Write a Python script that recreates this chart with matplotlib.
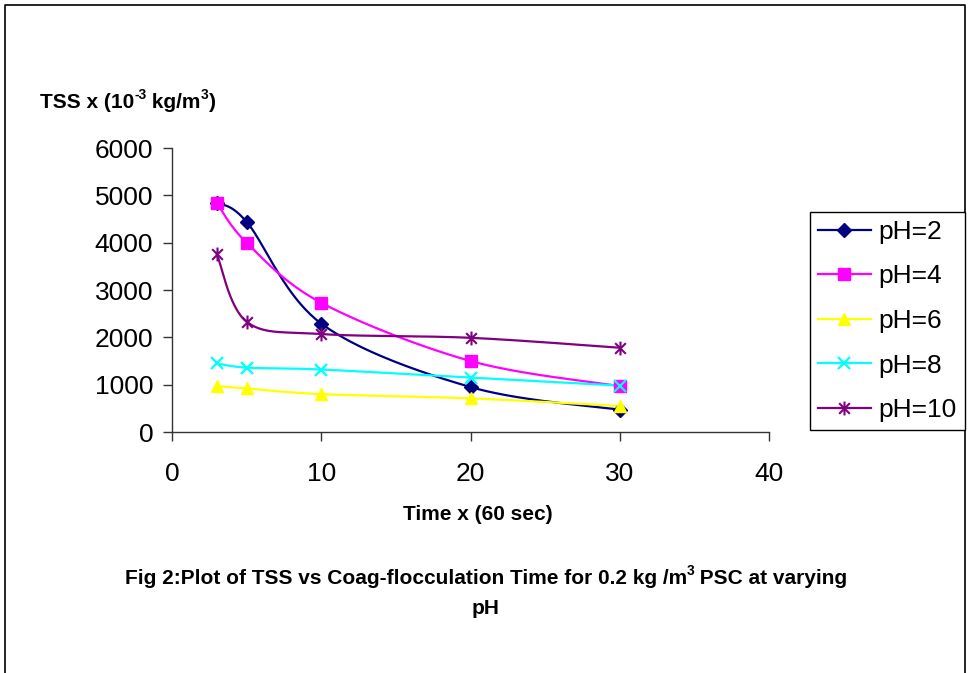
import numpy as np
import matplotlib
matplotlib.use("Agg")
import matplotlib.pyplot as plt
from matplotlib.path import Path
from matplotlib.lines import Line2D

plt.rcParams["font.family"] = ["Liberation Sans", "DejaVu Sans"]
plt.rcParams["axes.unicode_minus"] = False

# ── data ──
time_min = [3, 5, 10, 20, 30]
tss_ph2 = [4840, 4440, 2290, 950, 470]
tss_ph4 = [4840, 4000, 2730, 1500, 970]
tss_ph6 = [970, 920, 800, 710, 550]
tss_ph8 = [1450, 1360, 1320, 1150, 980]
tss_ph10 = [3760, 2330, 2070, 1990, 1780]
series_labels = ["pH=2", "pH=4", "pH=6", "pH=8", "pH=10"]
x_ticks = [0, 10, 20, 30, 40]
y_ticks = [0, 1000, 2000, 3000, 4000, 5000, 6000]

# Excel style asterisk marker (X plus vertical bar)
star = Path([(-1, -1), (1, 1), (-1, 1), (1, -1), (0, -1.3), (0, 1.3)],
            [Path.MOVETO, Path.LINETO, Path.MOVETO, Path.LINETO, Path.MOVETO, Path.LINETO])

styles = [
    dict(color="#000080", marker="D", ms=7, mfc="#000080", mec="#000080"),
    dict(color="#FF00FF", marker="s", ms=8, mfc="#FF00FF", mec="#FF00FF"),
    dict(color="#FFFF00", marker="^", ms=9, mfc="#FFFF00", mec="#FFFF00"),
    dict(color="#00FFFF", marker="x", ms=9, mew=1.6, mfc="none", mec="#00FFFF"),
    dict(color="#800080", marker=star, ms=10, mew=1.5, mfc="none", mec="#800080"),
]


def smooth(x, y, n=40):
    # Catmull-Rom like bezier, the way Excel smooths lines
    p = np.column_stack([x, y]).astype(float)
    p = np.vstack([p[0], p, p[-1]])
    out = []
    t = np.linspace(0, 1, n)[:, None]
    for i in range(1, len(p) - 2):
        p0, p1, p2, p3 = p[i - 1], p[i], p[i + 1], p[i + 2]
        c1 = p1 + (p2 - p0) / 6
        c2 = p2 - (p3 - p1) / 6
        seg = ((1 - t) ** 3) * p1 + 3 * ((1 - t) ** 2) * t * c1 + 3 * (1 - t) * t ** 2 * c2 + t ** 3 * p2
        out.append(seg if i == 1 else seg[1:])
    out = np.vstack(out)
    return out[:, 0], out[:, 1]


W, H = 969, 673
fig = plt.figure(figsize=(9.69, 6.73), dpi=100)
renderer = fig.canvas.get_renderer()


def rich_text(x_px, y_px, chunks, size=15, ha="left"):
    # chunks: list of (text, is_superscript); y_px is the baseline from the top
    arts = []
    x = 0.0
    for txt, sup in chunks:
        fs = size * 0.66 if sup else size
        dy = size * 0.45 if sup else 0
        t = fig.text(0, 0, txt, fontsize=fs, fontweight="bold", va="baseline", ha="left")
        arts.append((t, x, dy))
        x += t.get_window_extent(renderer).width
    x0 = x_px - (x / 2 if ha == "center" else 0)
    for t, off, dy in arts:
        t.set_position(((x0 + off) / W, 1 - y_px / H + dy * 100 / 72 / H))


ax = fig.add_axes([172 / W, 1 - 432 / H, (769 - 172) / W, (432 - 148) / H])

handles = []
for ys, st, lab in zip([tss_ph2, tss_ph4, tss_ph6, tss_ph8, tss_ph10], styles, series_labels):
    sx, sy = smooth(time_min, ys)
    ax.plot(sx, sy, color=st["color"], lw=1.6, zorder=2)
    mk = {k: v for k, v in st.items() if k != "color"}
    ax.plot(time_min, ys, ls="none", zorder=3, clip_on=False, **mk)
    handles.append(Line2D([], [], color=st["color"], lw=1.6, **mk))

ax.set_xlim(0, 40)
ax.set_ylim(0, 6000)
ax.set_xticks(x_ticks)
ax.set_yticks(y_ticks)
for s in ["top", "right"]:
    ax.spines[s].set_visible(False)
for s in ["left", "bottom"]:
    ax.spines[s].set_color("#333333")
    ax.spines[s].set_linewidth(1.0)
ax.tick_params(axis="both", direction="out", length=6.5, width=1.0, color="#333333", labelsize=19)
ax.tick_params(axis="x", pad=15)
ax.tick_params(axis="y", pad=7)

leg = fig.legend(handles, series_labels, loc="upper left",
                 bbox_to_anchor=(810 / W, 1 - 212 / H), fontsize=19, frameon=True,
                 fancybox=False, framealpha=1, edgecolor="black", numpoints=1,
                 handlelength=2.0, handletextpad=0.3, labelspacing=0.78,
                 borderpad=0.3, borderaxespad=0)
leg.get_frame().set_linewidth(1.0)

rich_text(40, 108, [("TSS x (10", False), ("-3", True), (" kg/m", False), ("3", True), (")", False)])
fig.text(478 / W, 1 - 514 / H, "Time x (60 sec)", fontsize=15, fontweight="bold",
         ha="center", va="center")
rich_text(486, 584, [("Fig 2:Plot of TSS vs Coag-flocculation Time for 0.2 kg /m", False), ("3", True),
                     (" PSC at varying", False)], ha="center")
fig.text(486 / W, 1 - 608 / H, "pH", fontsize=15, fontweight="bold", ha="center", va="center")

# outer frame (open at the bottom, like the cropped source)
fig.add_artist(Line2D([5 / W, 5 / W, 965 / W, 965 / W], [0, 1 - 5 / H, 1 - 5 / H, 0],
                      color="black", lw=1.2, transform=fig.transFigure))

fig.savefig("out.png", dpi=100)
